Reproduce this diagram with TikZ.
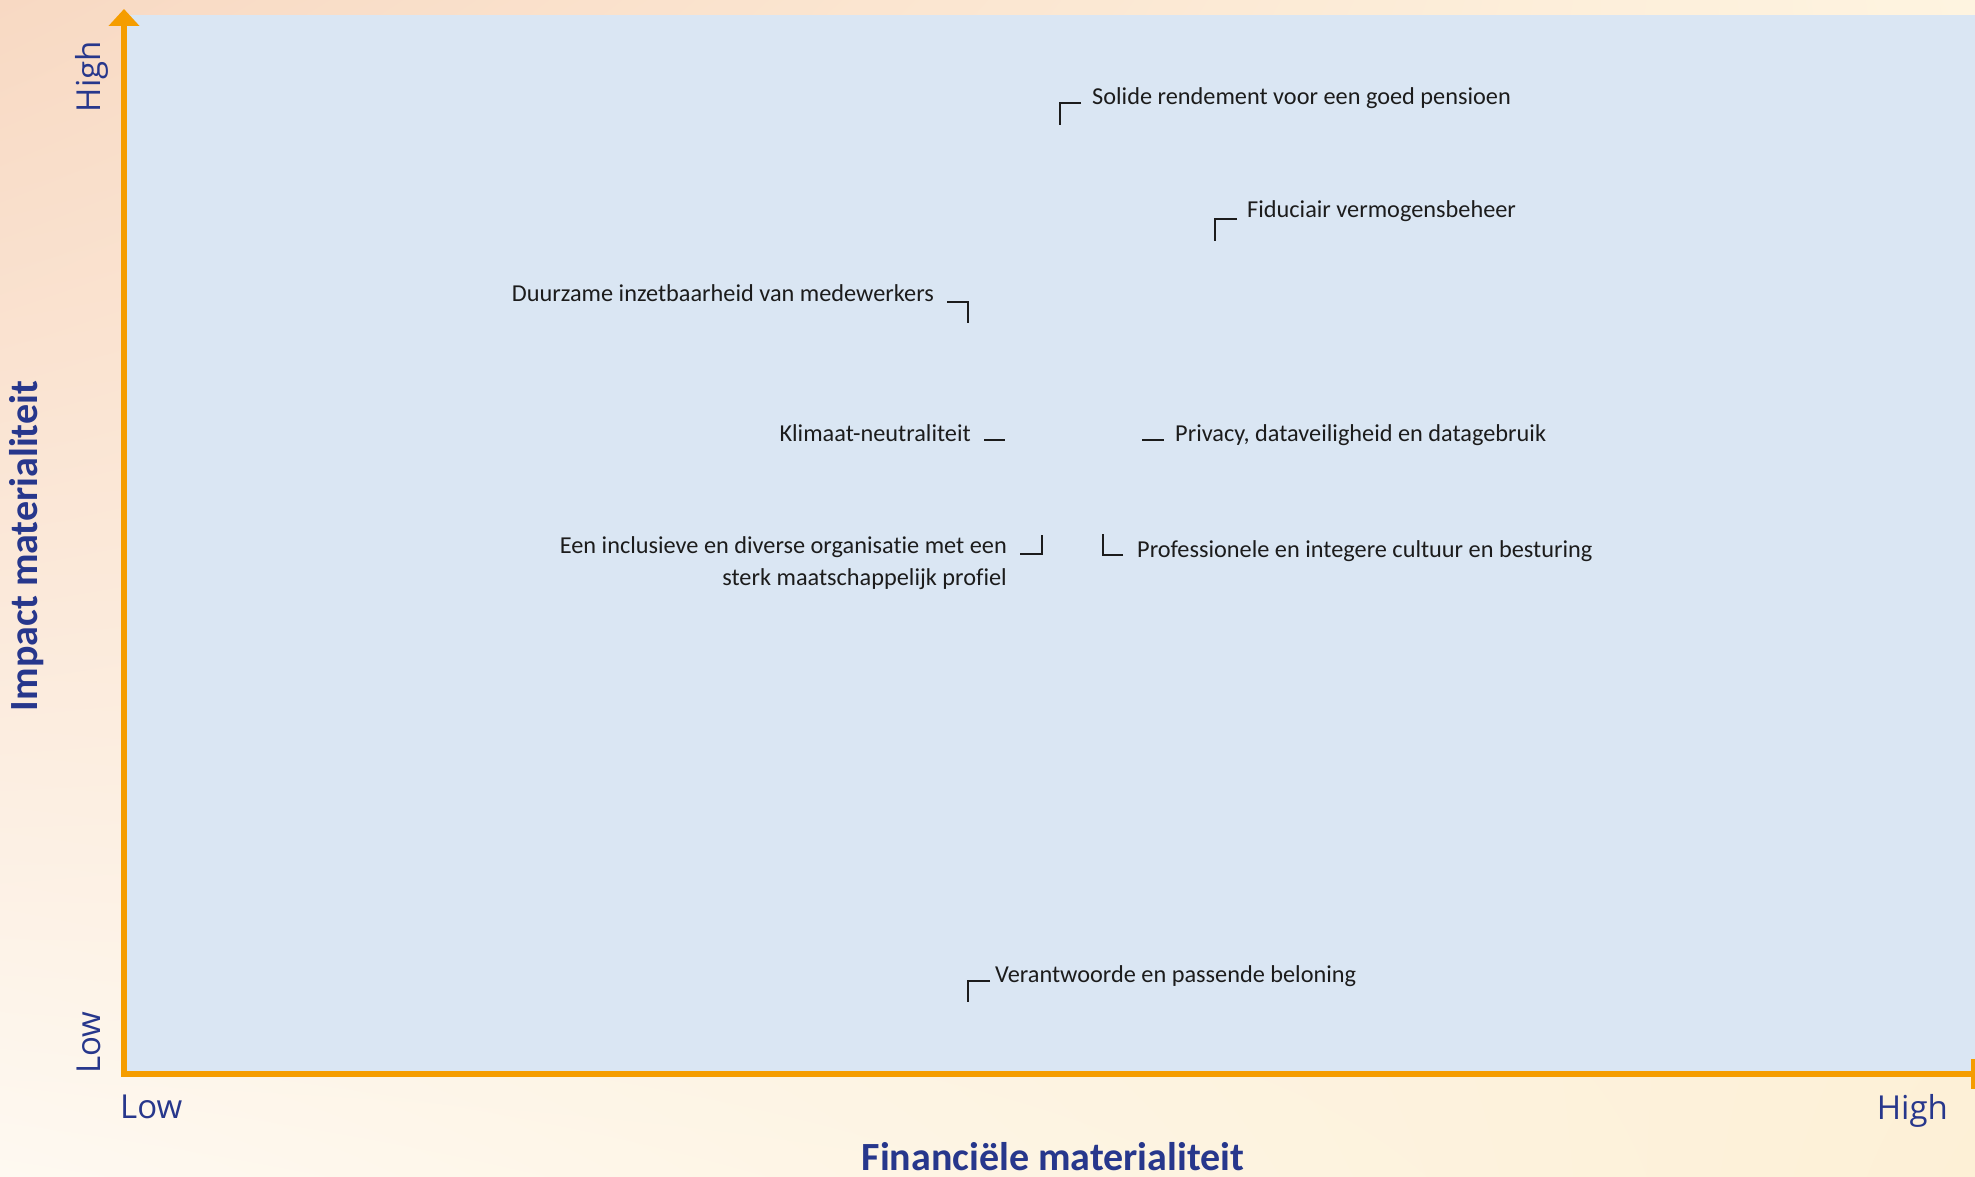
\documentclass[tikz,border=0pt]{standalone}
\usepackage{fontspec}
\setmainfont{Carlito}[Ligatures=NoCommon]
\newfontfamily\asfont{Open Sans}
\usepackage{tikz}
\usetikzlibrary{arrows.meta,calc,positioning,shadings}

\definecolor{asblauw}{HTML}{27378C}
\definecolor{asoranje}{HTML}{F59D00}
\definecolor{vlak}{HTML}{DAE6F3}
\definecolor{tekst}{HTML}{1C1C1C}
\definecolor{perzik}{HTML}{F8D9C3}
\definecolor{room}{HTML}{FEF9F1}
\definecolor{roomgeel}{HTML}{FEF4E0}
\definecolor{roomdonker}{HTML}{FDF0D6}

\begin{document}
\begin{tikzpicture}[x=1pt, y=-1pt,
      item/.style={inner sep=0pt, text=tekst, font=\fontsize{24.3}{32}\selectfont},
      hoek/.style={draw=tekst, line width=1.6pt},
      asnaam/.style={inner sep=0pt, text=asblauw, font=\asfont\fontsize{33}{38}\selectfont},
      astitel/.style={inner sep=0pt, text depth=0pt, text=asblauw, font=\bfseries\fontsize{40}{46}\selectfont}]
    \useasboundingbox (0,0) rectangle (1975,1177);
    \shade[upper left=perzik, upper right=roomgeel, lower left=room, lower right=roomdonker]
      (0,0) rectangle (1975,1177);
    \fill[vlak] (127,15) rectangle (1975,1071);

    % assen
    \coordinate (ytop) at (124,9);
    \coordinate (O) at (124,1074);
    \coordinate (xend) at (1977,1074);
    \draw[asoranje, line width=6pt, {Triangle[width=30pt,length=17pt]}-{Bar[width=30pt]}]
      (ytop) -- (O) -- (xend);

    \node[asnaam, anchor=base west] (xlaag) at (120,1118) {Low};
    \node[asnaam, anchor=base east] (xhoog) at (1948,1119) {High};
    \node[asnaam, rotate=90, anchor=base west] (ylaag) at (100,1074) {Low};
    \node[asnaam, rotate=90, anchor=base east] (yhoog) at (100,41) {High};
    \node[astitel, anchor=base] (xtitel) at (1053,1170) {Financiële materialiteit};
    \node[astitel, rotate=90, anchor=base] (ytitel) at (37,546) {Impact materialiteit};

    % onderwerpen
    \node[item, anchor=base west] (solide) at (1092,105) {Solide rendement voor een goed pensioen};
    \node[item, anchor=base west] (fiduciair) at (1247,218) {Fiduciair vermogensbeheer};
    \node[item, anchor=base east] (duurzaam) at (934,301) {Duurzame inzetbaarheid van medewerkers};
    \node[item, anchor=base east] (klimaat) at (971,441) {Klimaat-neutraliteit};
    \node[item, anchor=base west] (privacy) at (1175,441) {Privacy, dataveiligheid en datagebruik};
    \node[item, anchor=base east, align=right] (inclusief) at (1007,585)
      {Een inclusieve en diverse organisatie met een\\sterk maatschappelijk profiel};
    \node[item, anchor=base west] (professioneel) at (1137,557) {Professionele en integere cultuur en besturing};
    \node[item, anchor=base west] (verantwoord) at (995,982) {Verantwoorde en passende beloning};

    % hoekjes
    \coordinate (h-solide) at (1060,103);
    \coordinate (h-fiduciair) at (1215,219);
    \coordinate (h-duurzaam) at (968,302);
    \coordinate (h-klimaat) at (984,440);
    \coordinate (h-privacy) at (1142,440);
    \coordinate (h-inclusief) at (1042,554);
    \coordinate (h-professioneel) at (1103,555);
    \coordinate (h-verantwoord) at (968,981);
    \draw[hoek] ($(h-solide)+(21,0)$) -- (h-solide) -- ++(0,22);
    \draw[hoek] ($(h-fiduciair)+(22,0)$) -- (h-fiduciair) -- ++(0,22);
    \draw[hoek] ($(h-duurzaam)+(-21,0)$) -- (h-duurzaam) -- ++(0,21);
    \draw[hoek] (h-klimaat) -- ++(21,0);
    \draw[hoek] (h-privacy) -- ++(22,0);
    \draw[hoek] ($(h-inclusief)+(-22,0)$) -- (h-inclusief) -- ++(0,-19);
    \draw[hoek] ($(h-professioneel)+(20,0)$) -- (h-professioneel) -- ++(0,-21);
    \draw[hoek] ($(h-verantwoord)+(22,0)$) -- (h-verantwoord) -- ++(0,21);
\end{tikzpicture}
\end{document}
